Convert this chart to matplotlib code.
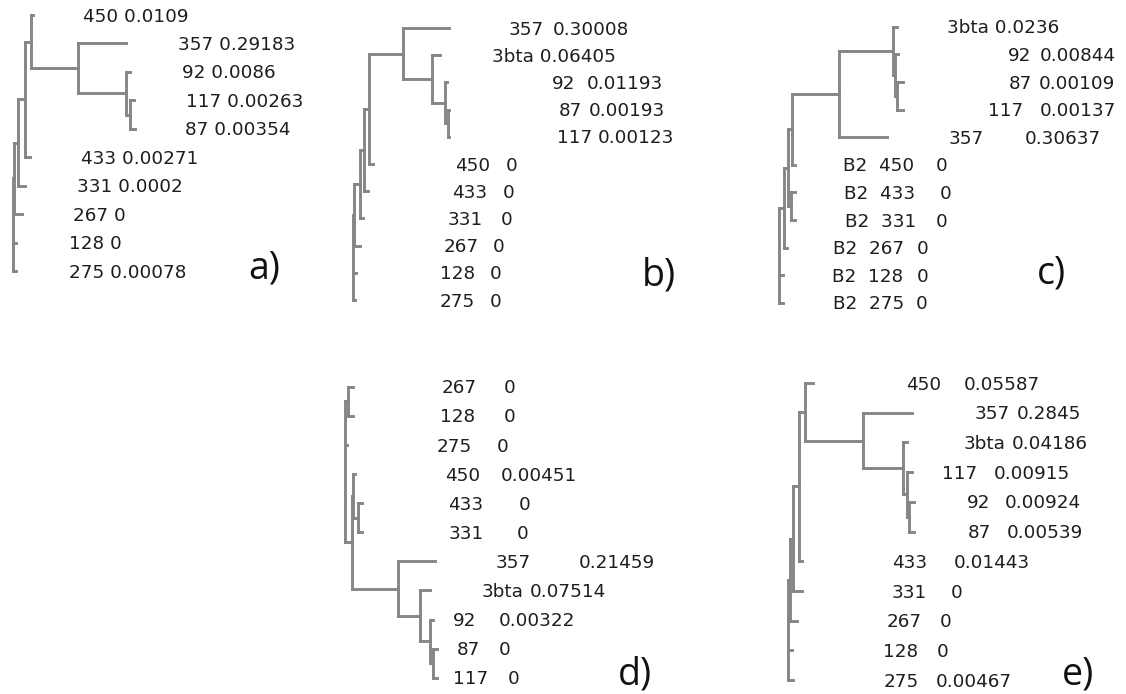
import matplotlib.pyplot as plt
from matplotlib.collections import LineCollection

# trees as newick, branch lengths (pixels)
tree_a = "(((((450:2,(357:48,(92:4,(117:4,87:5):4):48):47):6,433:5):6.7,331:6.7):4.3,267:8):0.7,128:2.7,275:2.7);"
tree_b = "((((((357:46.6,(3bta:8.3,(92:1.7,(87:1,117:1):3):13.3):29):33.7,450:4):5,433:4):4,331:3):6,267:6):1.3,128:3.3,275:2.3);"
tree_c = "((((((3bta:3.4,(92:3,(87:5.7,117:5.7):2):1.7):54.3,357:47.7):47.3,450:3.3):3.4,(433:4.3,331:4.3):2.4):4.3,267:2.7):4.7,128:3.3,275:3.7);"
tree_d = "((267:4.4,128:4.4):3.3,275:2.3,((450:1.7,(433:3.4,331:3.4):5):1.6,(357:36.7,(3bta:10,(92:3,(87:3.4,117:3.4):3.3):10):21.7):46.6):6.7);"
tree_e = "(((((450:8.3,(357:48.4,(3bta:4,(117:5,(92:4.7,87:4.7):2.6):4):39.4):58.3):5.7,433:2.7):6.6,331:9):2.7,267:6.7):1.7,128:3.4,275:4.7);"

# leaf labels (top to bottom) and their values
names_a = ["450", "357", "92", "117", "87", "433", "331", "267", "128", "275"]
vals_a = ["0.0109", "0.29183", "0.0086", "0.00263", "0.00354", "0.00271", "0.0002", "0", "0", "0.00078"]

names_b = ["357", "3bta", "92", "87", "117", "450", "433", "331", "267", "128", "275"]
vals_b = ["0.30008", "0.06405", "0.01193", "0.00193", "0.00123", "0", "0", "0", "0", "0", "0"]

names_c = ["3bta", "92", "87", "117", "357", "B2  450", "B2  433", "B2  331", "B2  267", "B2  128", "B2  275"]
vals_c = ["0.0236", "0.00844", "0.00109", "0.00137", "0.30637", "0", "0", "0", "0", "0", "0"]

names_d = ["267", "128", "275", "450", "433", "331", "357", "3bta", "92", "87", "117"]
vals_d = ["0", "0", "0", "0.00451", "0", "0", "0.21459", "0.07514", "0.00322", "0", "0"]

names_e = ["450", "357", "3bta", "117", "92", "87", "433", "331", "267", "128", "275"]
vals_e = ["0.05587", "0.2845", "0.04186", "0.00915", "0.00924", "0.00539", "0.01443", "0", "0", "0", "0.00467"]

# layout: root x, first leaf y, leaf spacing, label columns, panel letter position
# val_x None -> value follows the name after one space
panels = [
    dict(letter="a)", tree=tree_a, names=names_a, vals=vals_a, root=13.3, y0=15, dy=28.44,
         name_x=[82.7, 177.7, 181.7, 186, 185, 81, 77.3, 72.7, 69, 69],
         val_x=[None] * 10,
         let_xy=(248, 278.3)),
    dict(letter="b)", tree=tree_b, names=names_b, vals=vals_b, root=352.7, y0=28, dy=27.2,
         name_x=[508.3, 491.7, 551.7, 558.3, 557.3, 455, 451.7, 447.3, 443.3, 440, 439.3],
         val_x=[552.7, None, 586.7, 588.3, 596.7, 506, 502.7, 500.7, 492.3, 490, 490],
         let_xy=(641.7, 285)),
    dict(letter="c)", tree=tree_c, names=names_c, vals=vals_c, root=779.3, y0=26.7, dy=27.6,
         name_x=[946.7, 1008.3, 1008.3, 988.3, 948.3, 843.3, 844.3, 845, 832.7, 831.7, 832.7],
         val_x=[None, 1039.3, 1038.3, 1039.3, 1024.3, 936, 940, 936, 916.7, 916.7, 916],
         let_xy=(1036.7, 283.3)),
    dict(letter="d)", tree=tree_d, names=names_d, vals=vals_d, root=345, y0=386.7, dy=29.1,
         name_x=[441.7, 440, 436.7, 445, 448.3, 449, 495.7, 481.7, 452.7, 456.7, 453.3],
         val_x=[503.3, 503.3, 496.7, 500.7, 518.3, 516.7, 578.3, 530, 498.3, 498.3, 507.3],
         let_xy=(618.3, 685)),
    dict(letter="e)", tree=tree_e, names=names_e, vals=vals_e, root=788.3, y0=383, dy=29.7,
         name_x=[905.7, 975, 963.3, 941.7, 967.3, 967.3, 891.7, 891.7, 886.7, 883.3, 883.3],
         val_x=[964, 1016.7, 1011.7, 993.3, 1005, 1006.7, 953.3, 950.7, 940, 936.7, 936],
         let_xy=(1061.7, 685)),
]

LINE = "#868686"
TEXT = "#1e1e1e"
FS = 13.2


def parse_newick(s):
    pos = 0

    def node():
        nonlocal pos
        kids = []
        if s[pos] == "(":
            pos += 1
            kids.append(node())
            while s[pos] == ",":
                pos += 1
                kids.append(node())
            pos += 1
        start = pos
        while s[pos] not in ",);":
            pos += 1
        name, _, ln = s[start:pos].partition(":")
        return {"name": name, "len": float(ln or 0), "kids": kids}

    return node()


def layout(n, px, leaves):
    n["x"] = px + n["len"]
    n["px"] = px
    if n["kids"]:
        for k in n["kids"]:
            layout(k, n["x"], leaves)
        n["y"] = (n["kids"][0]["y"] + n["kids"][-1]["y"]) / 2
    else:
        n["y"] = len(leaves)
        leaves.append(n)


def segments(n, y0, dy, out, root=True):
    y = y0 + n["y"] * dy
    if not root:
        out.append([(n["px"], y), (n["x"], y)])
    if n["kids"]:
        out.append([(n["x"], y0 + n["kids"][0]["y"] * dy), (n["x"], y0 + n["kids"][-1]["y"] * dy)])
        for k in n["kids"]:
            segments(k, y0, dy, out, False)


fig = plt.figure(figsize=(11.26, 6.94), dpi=100)
ax = fig.add_axes([0, 0, 1, 1])
ax.set_xlim(0, 1126)
ax.set_ylim(694, 0)
ax.axis("off")
renderer = fig.canvas.get_renderer()

fs_px = FS * 100 / 72
for p in panels:
    t = parse_newick(p["tree"])
    leaves = []
    layout(t, p["root"], leaves)
    segs = []
    segments(t, p["y0"], p["dy"], segs)
    ax.add_collection(LineCollection(segs, colors=LINE, linewidths=2.1, capstyle="projecting"))

    for i, leaf in enumerate(leaves):
        y = p["y0"] + leaf["y"] * p["dy"] + 0.36 * fs_px
        vx = p["val_x"][i]
        if vx is None:
            ax.text(p["name_x"][i], y, p["names"][i] + " " + p["vals"][i], fontsize=FS, color=TEXT,
                    va="baseline", ha="left")
            continue
        nt = ax.text(p["name_x"][i], y, p["names"][i], fontsize=FS, color=TEXT, va="baseline", ha="left")
        right = nt.get_window_extent(renderer).x1
        ax.text(max(vx, right + 5), y, p["vals"][i], fontsize=FS, color=TEXT, va="baseline", ha="left")

    lx, ly = p["let_xy"]
    ax.text(lx, ly, p["letter"], fontsize=27, family="Open Sans", color="#111111", va="baseline", ha="left")

fig.savefig("out.png", dpi=100)
